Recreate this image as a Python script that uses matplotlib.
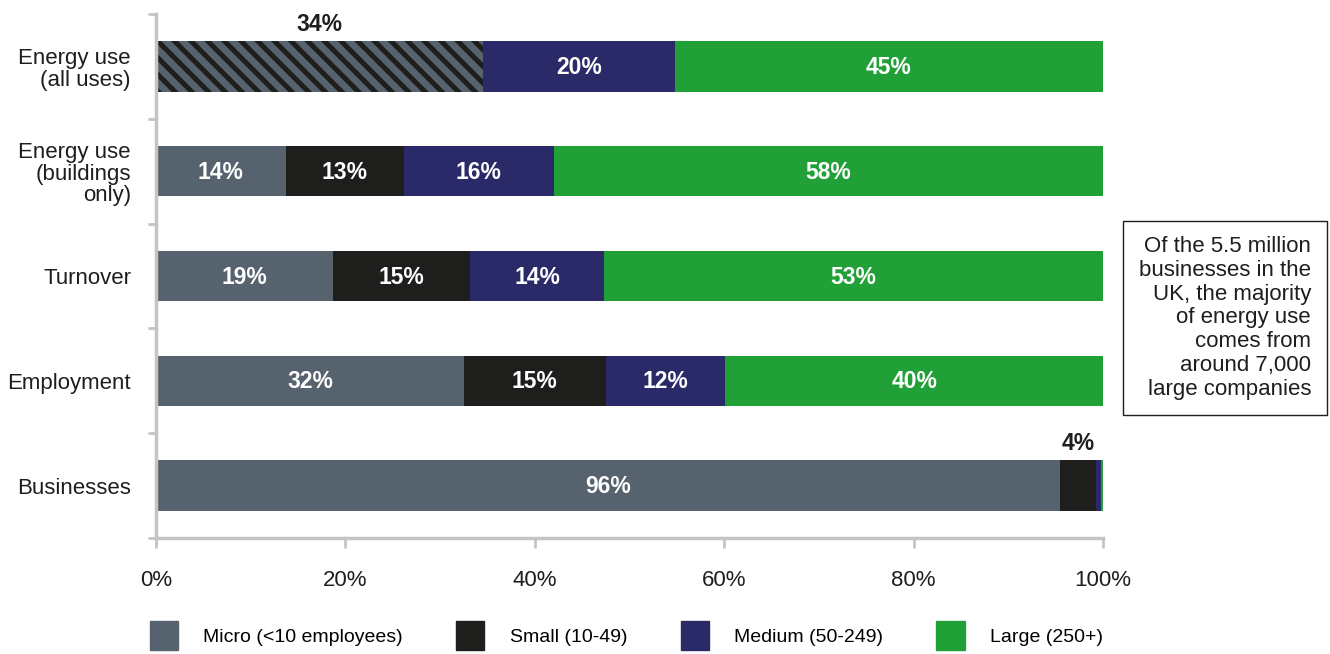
import matplotlib
matplotlib.use("Agg")
import matplotlib.pyplot as plt
import numpy as np

plt.rcParams['font.family'] = ['Liberation Sans', 'DejaVu Sans']
plt.rcParams['hatch.linewidth'] = 3.6
plt.rcParams['hatch.color'] = '#1e1e1c'

# data
categories = ["Energy use\n(all uses)", "Energy use\n(buildings\nonly)", "Turnover",
              "Employment", "Businesses"]
series = ["Micro (<10 employees)", "Small (10-49)", "Medium (50-249)", "Large (250+)"]
colors = ["#56636f", "#1e1e1c", "#2b2a69", "#21a038"]

micro = [34.5, 13.7, 18.7, 32.5, 95.5]   # first row is micro+small combined (hatched)
small = [0.0, 12.5, 14.5, 15.0, 3.8]
medium = [20.3, 15.8, 14.1, 12.6, 0.5]
large = [45.2, 58.0, 52.7, 39.9, 0.2]

micro_lbl = ["", "14%", "19%", "32%", "96%"]
small_lbl = ["", "13%", "15%", "15%", ""]
medium_lbl = ["20%", "16%", "14%", "12%", ""]
large_lbl = ["45%", "58%", "53%", "40%", ""]
above_lbl = {0: ("34%", 0), 4: ("4%", 1)}  # row: (text, segment index)

note = ("Of the 5.5 million\nbusinesses in the\nUK, the majority\nof energy use\n"
        "comes from\naround 7,000\nlarge companies")

fig = plt.figure(figsize=(13.3, 6.54), dpi=100)
ax = fig.add_axes([156 / 1330, 1 - 538 / 654, (1103 - 156) / 1330, (538 - 14) / 654])

y = np.arange(len(categories))
vals = [micro, small, medium, large]
lbls = [micro_lbl, small_lbl, medium_lbl, large_lbl]
left = np.zeros(len(categories))
bar_h = 0.48
for k, (v, lab) in enumerate(zip(vals, lbls)):
    v = np.array(v)
    bars = ax.barh(y, v, left=left, height=bar_h, color=colors[k], linewidth=0,
                   label=series[k])
    if k == 0:
        bars[0].set_hatch('\\\\')
    for i, t in enumerate(lab):
        if t:
            ax.text(left[i] + v[i] / 2, y[i] + 0.01, t, ha='center', va='center',
                    color='white', fontsize=16.5, fontweight='bold')
    for i, (t, seg) in above_lbl.items():
        if seg == k:
            ax.text(left[i] + v[i] / 2, y[i] - bar_h / 2 - 0.05, t, ha='center',
                    va='bottom', color='#1e1e1c', fontsize=16.5, fontweight='bold')
    left = left + v

ax.set_xlim(0, 100)
ax.set_ylim(len(categories) - 0.5, -0.5)
ax.set_xticks(np.arange(0, 101, 20))
ax.set_xticklabels([f"{t}%" for t in range(0, 101, 20)], fontsize=16, color='#1e1e1c')
ax.set_yticks(y)
ax.set_yticklabels(categories, fontsize=16, color='#1e1e1c', linespacing=1.05)
ax.set_yticks(np.arange(-0.5, len(categories)), minor=True)
ax.tick_params(axis='y', which='major', length=0, pad=18)
ax.tick_params(axis='y', which='minor', length=6, width=2, color='#c4c4c4')
ax.tick_params(axis='x', length=7, width=2, color='#c4c4c4', pad=16)
for s in ['top', 'right']:
    ax.spines[s].set_visible(False)
for s in ['left', 'bottom']:
    ax.spines[s].set_color('#c4c4c4')
    ax.spines[s].set_linewidth(2.5)

fig.text(1311 / 1330, 1 - 318 / 654, note, ha='right', va='center', fontsize=16,
         color='#1e1e1c', linespacing=1.17,
         bbox=dict(boxstyle='square,pad=0.7', fc='white', ec='#1e1e1c', lw=1))

handles = [plt.Rectangle((0, 0), 1, 1, color=c) for c in colors]
fig.legend(handles, series, loc='lower left', bbox_to_anchor=(132 / 1330, -0.021),
           ncol=4, frameon=False, handlelength=1.45, handleheight=1.9,
           handletextpad=1.3, columnspacing=2.75,
           prop={'family': ['Liberation Sans'], 'size': 14})

fig.savefig("out.png", dpi=100)
